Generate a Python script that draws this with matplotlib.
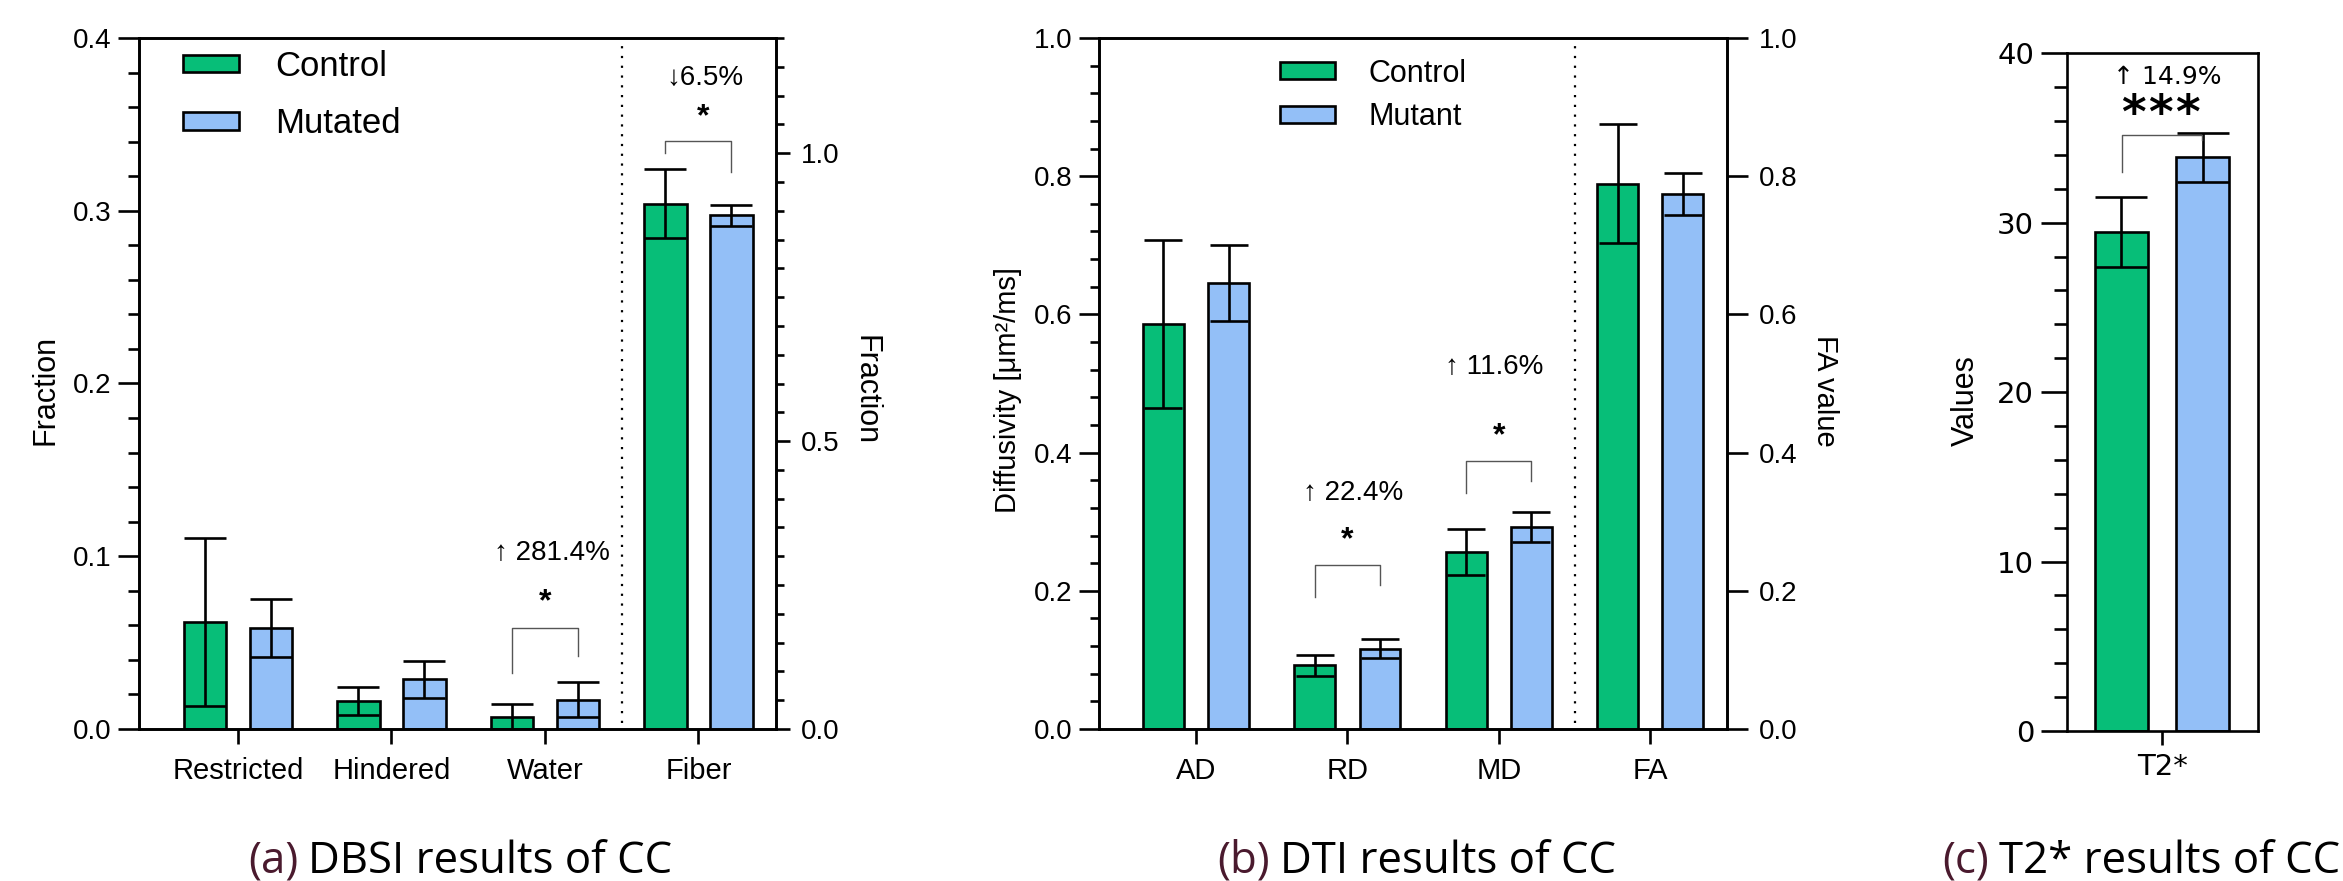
import matplotlib
matplotlib.use('Agg')
import matplotlib.pyplot as plt
from matplotlib.patches import Patch
from matplotlib.ticker import MultipleLocator, FormatStrFormatter

# ---------------- data ----------------
dbsi_categories = ['Restricted', 'Hindered', 'Water', 'Fiber']
dbsi_series = ['Control', 'Mutated']
dbsi_control = [0.0621, 0.0162, 0.0068, 0.912]
dbsi_control_err = [0.0485, 0.0079, 0.0077, 0.060]
dbsi_mutated = [0.0585, 0.0288, 0.0170, 0.892]
dbsi_mutated_err = [0.0168, 0.0108, 0.0100, 0.018]

dti_categories = ['AD', 'RD', 'MD', 'FA']
dti_series = ['Control', 'Mutant']
dti_control = [0.586, 0.092, 0.256, 0.789]
dti_control_err = [0.122, 0.0154, 0.033, 0.086]
dti_mutant = [0.645, 0.116, 0.292, 0.774]
dti_mutant_err = [0.055, 0.0137, 0.0217, 0.030]

t2_categories = ['T2*']
t2_control = [29.45]
t2_control_err = [2.05]
t2_mutant = [33.85]
t2_mutant_err = [1.45]

# significance: category index, change label, stars
dbsi_sig_index = [2, 3]
dbsi_sig_change = ['\u2191 281.4%', '\u21936.5%']
dbsi_sig_stars = ['*', '*']
dbsi_sig_bracket = [(0.0326, 0.0583, 0.0423), (1.001, 1.021, 0.967)]
dbsi_sig_text_y = [(0.0731, 0.1017), (1.063, 1.131)]

dti_sig_index = [1, 2]
dti_sig_change = ['\u2191 22.4%', '\u2191 11.6%']
dti_sig_stars = ['*', '*']
dti_sig_bracket = [(0.1906, 0.2378, 0.2084), (0.341, 0.3883, 0.359)]
dti_sig_text_y = [(0.2735, 0.341), (0.4240, 0.5244)]

t2_sig_change = '\u2191 14.9%'
t2_sig_stars = ['*', '*', '*']
t2_sig_bracket = (33.0, 35.16, 34.9)
t2_sig_text_y = (36.3, 38.6)

captions = [('(a)', 'DBSI results of CC'), ('(b)', 'DTI results of CC'), ('(c)', 'T2* results of CC')]

GREEN = '#07BE78'
BLUE = '#93BFF7'
SANS = ['Liberation Sans', 'DejaVu Sans']
WIDE = ['DejaVu Sans']
CAP_FONT = ['Open Sans', 'DejaVu Sans']
LW = 1.9

plt.rcParams['font.family'] = SANS

W, H = 2343, 881
fig = plt.figure(figsize=(W / 100, H / 100), dpi=100)


def box(l, t, r, b):
    return [l / W, (H - b) / H, (r - l) / W, (b - t) / H]


def style_spines(ax):
    for s in ax.spines.values():
        s.set_linewidth(LW)
        s.set_color('black')


def draw_bars(ax, xs, vals, errs, color, width, capsize):
    ax.bar(xs, vals, width=width, color=color, edgecolor='black', linewidth=LW, zorder=2)
    ax.errorbar(xs, vals, yerr=errs, fmt='none', ecolor='black', elinewidth=LW,
                capsize=capsize, capthick=LW, zorder=3)


def bracket(ax, x0, x1, ys):
    yl, yt, yr = ys
    ax.plot([x0, x0, x1, x1], [yl, yt, yt, yr], color='#555555', lw=1.0, zorder=4)


OFF = 0.215

# ---------------- panel a ----------------
axa = fig.add_axes(box(139, 38, 776, 729))
axa2 = axa.twinx()
n_left = 3
xs_left = list(range(n_left))
draw_bars(axa, [x - OFF for x in xs_left], dbsi_control[:n_left], dbsi_control_err[:n_left], GREEN, 0.277, 15)
draw_bars(axa, [x + OFF for x in xs_left], dbsi_mutated[:n_left], dbsi_mutated_err[:n_left], BLUE, 0.277, 15)
draw_bars(axa2, [3 - OFF], dbsi_control[n_left:], dbsi_control_err[n_left:], GREEN, 0.277, 15)
draw_bars(axa2, [3 + OFF], dbsi_mutated[n_left:], dbsi_mutated_err[n_left:], BLUE, 0.277, 15)
axa.set_xlim(-0.644, 3.505)
axa.set_ylim(0, 0.4)
axa2.set_ylim(0, 1.2)
axa.axvline(2.5, ymin=0.008, ymax=0.995, color='black', lw=1.6, linestyle=(0, (1, 3.4)), zorder=1)
axa.set_xticks(range(len(dbsi_categories)))
axa.set_xticklabels(dbsi_categories, fontsize=21)
axa.yaxis.set_major_locator(MultipleLocator(0.1))
axa.yaxis.set_minor_locator(MultipleLocator(0.02))
axa.yaxis.set_major_formatter(FormatStrFormatter('%.1f'))
axa2.yaxis.set_major_locator(MultipleLocator(0.5))
axa2.yaxis.set_minor_locator(MultipleLocator(0.05))
axa2.yaxis.set_major_formatter(FormatStrFormatter('%.1f'))
axa.tick_params(axis='y', which='major', length=15, width=LW, pad=5, labelsize=20)
axa.tick_params(axis='y', which='minor', length=8, width=LW)
axa.tick_params(axis='x', which='major', length=11, width=LW, pad=9)
axa2.tick_params(axis='y', which='major', length=10, width=LW, pad=8, labelsize=20)
axa2.tick_params(axis='y', which='minor', length=6, width=LW)
style_spines(axa)
style_spines(axa2)
axa.set_ylabel('Fraction', fontsize=22, va='center')
axa.yaxis.set_label_coords(-0.146, 0.49)
axa2.set_ylabel('Fraction', fontsize=22, rotation=270, va='center')
axa2.yaxis.set_label_coords(1.141, 0.49)
leg_a = axa.legend(handles=[Patch(facecolor=GREEN, edgecolor='black', linewidth=LW, label=dbsi_series[0]),
                            Patch(facecolor=BLUE, edgecolor='black', linewidth=LW, label=dbsi_series[1])],
                   loc='upper left', bbox_to_anchor=(0.058, 0.993), frameon=False, fontsize=25,
                   handlelength=1.61, handleheight=0.40, handletextpad=1.05, labelspacing=0.71,
                   borderpad=0.2, borderaxespad=0)

for k, idx in enumerate(dbsi_sig_index):
    target = axa if idx < n_left else axa2
    bracket(target, idx - OFF, idx + OFF, dbsi_sig_bracket[k])
    ys, yc = dbsi_sig_text_y[k]
    dx = 0.0 if idx < n_left else 0.03
    target.text(idx + dx, ys, dbsi_sig_stars[k], ha='center', va='center', fontsize=23,
                fontweight='bold', family=SANS)
    target.text(idx + 0.047 if idx < n_left else idx + 0.04, yc, dbsi_sig_change[k], ha='center',
                va='center', fontsize=20, family=SANS)

# ---------------- panel b ----------------
axb = fig.add_axes(box(1099.3, 38, 1726.7, 729))
axb2 = axb.twinx()
n_b = 3
xs_b = list(range(n_b))
draw_bars(axb, [x - OFF for x in xs_b], dti_control[:n_b], dti_control_err[:n_b], GREEN, 0.27, 14)
draw_bars(axb, [x + OFF for x in xs_b], dti_mutant[:n_b], dti_mutant_err[:n_b], BLUE, 0.27, 14)
draw_bars(axb2, [3 - OFF], dti_control[n_b:], dti_control_err[n_b:], GREEN, 0.27, 14)
draw_bars(axb2, [3 + OFF], dti_mutant[n_b:], dti_mutant_err[n_b:], BLUE, 0.27, 14)
axb.set_xlim(-0.639, 3.505)
axb.set_ylim(0, 1.0)
axb2.set_ylim(0, 1.0)
axb.axvline(2.5, ymin=0.008, ymax=0.995, color='black', lw=1.6, linestyle=(0, (1, 3.4)), zorder=1)
axb.set_xticks(range(len(dti_categories)))
axb.set_xticklabels(dti_categories, fontsize=21)
axb.yaxis.set_major_locator(MultipleLocator(0.2))
axb.yaxis.set_minor_locator(MultipleLocator(0.04))
axb.yaxis.set_major_formatter(FormatStrFormatter('%.1f'))
axb2.yaxis.set_major_locator(MultipleLocator(0.2))
axb2.yaxis.set_major_formatter(FormatStrFormatter('%.1f'))
axb.tick_params(axis='y', which='major', length=14.5, width=LW, pad=5, labelsize=20)
axb.tick_params(axis='y', which='minor', length=6.5, width=LW)
axb.tick_params(axis='x', which='major', length=11, width=LW, pad=9)
axb2.tick_params(axis='y', which='major', length=15, width=LW, pad=8, labelsize=20)
style_spines(axb)
style_spines(axb2)
axb.set_ylabel('Diffusivity [\u03bcm\u00b2/ms]', fontsize=21, va='center')
axb.yaxis.set_label_coords(-0.1455, 0.49)
axb2.set_ylabel('FA value', fontsize=21, rotation=270, va='center')
axb2.yaxis.set_label_coords(1.157, 0.49)
leg_b = axb.legend(handles=[Patch(facecolor=GREEN, edgecolor='black', linewidth=LW, label=dti_series[0]),
                            Patch(facecolor=BLUE, edgecolor='black', linewidth=LW, label=dti_series[1])],
                   loc='upper left', bbox_to_anchor=(0.2785, 0.979), frameon=False, fontsize=22,
                   handlelength=1.8, handleheight=0.49, handletextpad=1.1, labelspacing=0.44,
                   borderpad=0.2, borderaxespad=0)

for k, idx in enumerate(dti_sig_index):
    bracket(axb, idx - OFF, idx + OFF, dti_sig_bracket[k])
    ys, yc = dti_sig_text_y[k]
    axb.text(idx, ys, dti_sig_stars[k], ha='center', va='center', fontsize=23, fontweight='bold', family=SANS)
    axb.text(idx + (0.04 if k == 0 else -0.03), yc, dti_sig_change[k], ha='center', va='center',
             fontsize=20, family=SANS)

# ---------------- panel c ----------------
axc = fig.add_axes(box(2066.7, 53.3, 2257.7, 731))
draw_bars(axc, [-0.427], t2_control, t2_control_err, GREEN, 0.555, 18.5)
draw_bars(axc, [0.427], t2_mutant, t2_mutant_err, BLUE, 0.555, 18.5)
axc.set_xlim(-1, 1)
axc.set_ylim(0, 40)
axc.set_xticks([0])
axc.set_xticklabels(t2_categories, fontsize=21, family=WIDE)
axc.yaxis.set_major_locator(MultipleLocator(10))
axc.yaxis.set_minor_locator(MultipleLocator(2))
axc.yaxis.set_major_formatter(FormatStrFormatter('%d'))
axc.tick_params(axis='y', which='major', length=18.5, width=LW, pad=5, labelsize=21)
axc.tick_params(axis='y', which='minor', length=9.5, width=LW)
axc.tick_params(axis='x', which='major', length=10, width=LW, pad=6)
for lab in axc.get_yticklabels():
    lab.set_family(WIDE)
style_spines(axc)
axc.set_ylabel('Values', fontsize=22, va='center')
axc.yaxis.set_label_coords(-0.527, 0.487)
bracket(axc, -0.42, 0.415, t2_sig_bracket)
for j, star in enumerate(t2_sig_stars):
    axc.text(-0.02 + (j - 1) * 0.283, t2_sig_text_y[0], star, ha='center', va='center', fontsize=34,
             fontweight='bold', family=WIDE)
axc.text(0.05, t2_sig_text_y[1], t2_sig_change, ha='center', va='center', fontsize=18, family=WIDE)

# ---------------- captions ----------------
cap_left = [248, 1217, 1942]
cap_base = 873
renderer = fig.canvas.get_renderer()
for (lab, rest), x0 in zip(captions, cap_left):
    t1 = fig.text(x0 / W, (H - cap_base) / H, lab, fontsize=31.5, color='#4A1A2E', family=CAP_FONT,
                  ha='left', va='baseline')
    bb = t1.get_window_extent(renderer=renderer)
    fig.text(bb.x1 / W + 10 / W, (H - cap_base) / H, rest, fontsize=31.5, color='black', family=CAP_FONT,
             ha='left', va='baseline')

fig.savefig('out.png', dpi=100)
